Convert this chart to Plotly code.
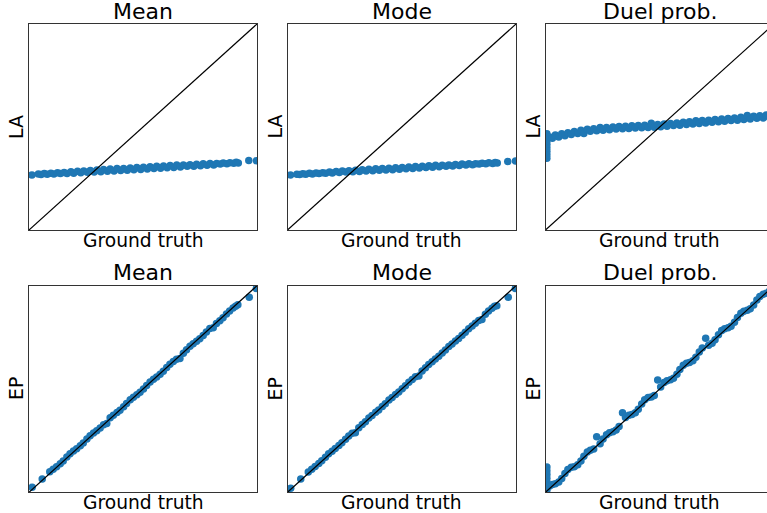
import plotly.graph_objects as go

# ---------------------------------------------------------------- data
# Ground-truth values (normalised to [0, 1]) and the estimates of each method.

# LA row, Mean / Mode columns share the same ground truth
truth_la = [0.013, 0.041, 0.053, 0.067, 0.080, 0.096, 0.109, 0.125, 0.138, 0.154,
            0.167, 0.184, 0.196, 0.213, 0.227, 0.240, 0.256, 0.269, 0.286, 0.298,
            0.315, 0.327, 0.344, 0.356, 0.373, 0.386, 0.402, 0.415, 0.431, 0.444,
            0.460, 0.473, 0.490, 0.502, 0.519, 0.531, 0.548, 0.560, 0.577, 0.590,
            0.606, 0.619, 0.635, 0.648, 0.664, 0.677, 0.694, 0.706, 0.723, 0.735,
            0.752, 0.764, 0.781, 0.794, 0.810, 0.823, 0.839, 0.852, 0.868, 0.881,
            0.898, 0.909, 0.918, 0.964, 0.998]

la_mean = [0.267, 0.272, 0.269, 0.274, 0.271, 0.276, 0.272, 0.278, 0.274, 0.279,
           0.274, 0.283, 0.276, 0.285, 0.278, 0.287, 0.280, 0.289, 0.282, 0.291,
           0.283, 0.294, 0.285, 0.296, 0.287, 0.298, 0.289, 0.299, 0.290, 0.301,
           0.292, 0.303, 0.294, 0.305, 0.296, 0.307, 0.298, 0.309, 0.300, 0.311,
           0.302, 0.313, 0.304, 0.315, 0.306, 0.315, 0.309, 0.317, 0.310, 0.319,
           0.312, 0.321, 0.314, 0.323, 0.316, 0.323, 0.320, 0.325, 0.322, 0.327,
           0.324, 0.329, 0.325, 0.337, 0.336]

la_mode = [0.267, 0.271, 0.269, 0.273, 0.271, 0.275, 0.272, 0.277, 0.274, 0.278,
           0.275, 0.282, 0.277, 0.284, 0.279, 0.286, 0.281, 0.288, 0.283, 0.290,
           0.284, 0.293, 0.286, 0.295, 0.288, 0.297, 0.290, 0.298, 0.291, 0.300,
           0.293, 0.302, 0.295, 0.304, 0.297, 0.306, 0.299, 0.308, 0.301, 0.310,
           0.303, 0.312, 0.305, 0.314, 0.307, 0.314, 0.309, 0.316, 0.311, 0.318,
           0.313, 0.320, 0.315, 0.322, 0.317, 0.322, 0.320, 0.324, 0.321, 0.326,
           0.323, 0.328, 0.325, 0.333, 0.335]

# EP row, Mean / Mode columns share the same ground truth
truth_ep = [0.014, 0.058, 0.091, 0.106, 0.121, 0.137, 0.150, 0.166, 0.180, 0.195,
            0.209, 0.225, 0.238, 0.254, 0.268, 0.283, 0.297, 0.312, 0.327, 0.341,
            0.356, 0.370, 0.386, 0.399, 0.415, 0.428, 0.444, 0.458, 0.473, 0.487,
            0.502, 0.516, 0.531, 0.546, 0.560, 0.575, 0.589, 0.604, 0.618, 0.633,
            0.647, 0.662, 0.677, 0.691, 0.706, 0.720, 0.735, 0.749, 0.764, 0.778,
            0.793, 0.808, 0.822, 0.837, 0.851, 0.866, 0.880, 0.895, 0.906, 0.916,
            0.966, 0.997]

ep_mean = [0.024, 0.064, 0.099, 0.112, 0.124, 0.138, 0.152, 0.171, 0.187, 0.200,
           0.211, 0.225, 0.239, 0.258, 0.274, 0.287, 0.298, 0.311, 0.327, 0.333,
           0.361, 0.373, 0.386, 0.397, 0.414, 0.430, 0.448, 0.460, 0.472, 0.484,
           0.500, 0.517, 0.534, 0.547, 0.558, 0.571, 0.586, 0.604, 0.620, 0.633,
           0.644, 0.648, 0.673, 0.690, 0.707, 0.719, 0.731, 0.743, 0.759, 0.776,
           0.793, 0.796, 0.817, 0.830, 0.845, 0.863, 0.878, 0.892, 0.900, 0.908,
           0.944, 0.987]

ep_mode = [0.019, 0.064, 0.098, 0.111, 0.125, 0.139, 0.153, 0.170, 0.186, 0.199,
           0.212, 0.226, 0.240, 0.257, 0.273, 0.286, 0.288, 0.312, 0.328, 0.342,
           0.360, 0.372, 0.387, 0.398, 0.415, 0.429, 0.447, 0.459, 0.473, 0.485,
           0.501, 0.516, 0.533, 0.546, 0.559, 0.563, 0.587, 0.603, 0.619, 0.632,
           0.645, 0.659, 0.674, 0.689, 0.706, 0.718, 0.732, 0.744, 0.760, 0.775,
           0.792, 0.805, 0.818, 0.831, 0.836, 0.862, 0.877, 0.891, 0.901, 0.903,
           0.944, 0.987]

# Duel prob. column (both rows share the same ground truth)
truth_duel = [0.006, 0.006, 0.006, 0.006, 0.006, 0.006, 0.006, 0.006,
              0.018, 0.030, 0.043, 0.058, 0.071, 0.085, 0.098, 0.113, 0.126, 0.141,
              0.155, 0.168, 0.183, 0.196, 0.211, 0.224, 0.239, 0.252, 0.267, 0.280,
              0.295, 0.309, 0.322, 0.337, 0.350, 0.365, 0.378, 0.393, 0.406, 0.421,
              0.434, 0.449, 0.463, 0.476, 0.491, 0.504, 0.519, 0.532, 0.547, 0.560,
              0.575, 0.588, 0.603, 0.617, 0.630, 0.645, 0.658, 0.673, 0.686, 0.701,
              0.714, 0.729, 0.742, 0.757, 0.771, 0.784, 0.799, 0.812, 0.827, 0.840,
              0.855, 0.868, 0.883, 0.896, 0.911, 0.925, 0.938, 0.953, 0.966, 0.980]

la_duel = [0.348, 0.365, 0.382, 0.399, 0.416, 0.433, 0.450, 0.467,
           0.451, 0.445, 0.461, 0.452, 0.467, 0.458, 0.472, 0.463, 0.478, 0.469,
           0.484, 0.469, 0.489, 0.479, 0.492, 0.482, 0.497, 0.484, 0.498, 0.487,
           0.500, 0.490, 0.503, 0.492, 0.504, 0.493, 0.506, 0.495, 0.507, 0.496,
           0.509, 0.498, 0.518, 0.499, 0.512, 0.501, 0.515, 0.504, 0.517, 0.507,
           0.520, 0.509, 0.523, 0.512, 0.525, 0.515, 0.530, 0.517, 0.531, 0.520,
           0.533, 0.523, 0.536, 0.525, 0.539, 0.528, 0.541, 0.531, 0.544, 0.533,
           0.547, 0.536, 0.556, 0.539, 0.552, 0.542, 0.555, 0.544, 0.558, 0.547]

ep_duel = [0.122, 0.104, 0.086, 0.068, 0.050, 0.034, 0.020, 0.010,
           0.030, 0.038, 0.041, 0.050, 0.067, 0.091, 0.110, 0.121, 0.124, 0.133,
           0.151, 0.174, 0.195, 0.204, 0.209, 0.269, 0.235, 0.258, 0.279, 0.288,
           0.293, 0.301, 0.318, 0.385, 0.362, 0.373, 0.376, 0.385, 0.402, 0.427,
           0.448, 0.459, 0.461, 0.468, 0.543, 0.510, 0.531, 0.540, 0.545, 0.552,
           0.571, 0.594, 0.615, 0.625, 0.628, 0.637, 0.654, 0.679, 0.698, 0.746,
           0.712, 0.721, 0.738, 0.763, 0.783, 0.792, 0.797, 0.804, 0.823, 0.846,
           0.867, 0.876, 0.881, 0.888, 0.907, 0.931, 0.948, 0.959, 0.964, 0.974]

methods = ["Mean", "Mode", "Duel prob."]
rows = ["LA", "EP"]
panels = [
    [(truth_la, la_mean), (truth_la, la_mode), (truth_duel, la_duel)],
    [(truth_ep, ep_mean), (truth_ep, ep_mode), (truth_duel, ep_duel)],
]
identity = [0, 1]

# ---------------------------------------------------------------- layout
W, H = 767, 513
col_px = [(29.0, 257.0), (287.5, 516.0), (545.5, 774.0)]
row_px = [(24.0, 230.0), (285.7, 492.3)]

FONT = "DejaVu Sans, Liberation Sans, sans-serif"
BLUE = "#1f77b4"

fig = go.Figure()
layout = dict(
    width=W, height=H,
    margin=dict(l=0, r=0, t=0, b=0),
    paper_bgcolor="white", plot_bgcolor="white",
    showlegend=False,
    font=dict(family=FONT, color="black"),
)
annotations = []

idx = 0
for r, row_name in enumerate(rows):
    top, bot = row_px[r]
    for c, method in enumerate(methods):
        idx += 1
        left, right = col_px[c]
        suffix = "" if idx == 1 else str(idx)
        right_vis = min(right, W)
        x_hi = (right_vis - left) / (right - left)
        layout["xaxis" + suffix] = dict(
            domain=[left / W, right_vis / W],
            range=[0, x_hi],
            anchor="y" + suffix,
            showticklabels=False, ticks="", showgrid=False, zeroline=False,
            showline=True, linecolor="#333", linewidth=1, mirror=True,
        )
        layout["yaxis" + suffix] = dict(
            domain=[(H - bot) / H, (H - top) / H],
            range=[0, 1],
            anchor="x" + suffix,
            showticklabels=False, ticks="", showgrid=False, zeroline=False,
            showline=True, linecolor="#333", linewidth=1,
            mirror=(right <= W),
        )

        xs, ys = panels[r][c]
        fig.add_trace(go.Scatter(
            x=xs, y=ys, mode="markers",
            marker=dict(color=BLUE, size=7.5, line=dict(width=0)),
            xaxis="x" + suffix, yaxis="y" + suffix,
        ))
        fig.add_trace(go.Scatter(
            x=identity, y=identity, mode="lines",
            line=dict(color="black", width=1.2),
            xaxis="x" + suffix, yaxis="y" + suffix,
        ))

        cx = (left + right) / 2
        # subplot title
        annotations.append(dict(
            text=method, xref="paper", yref="paper",
            x=cx / W, y=(H - (top - 13)) / H,
            xanchor="center", yanchor="middle", showarrow=False,
            font=dict(size=22, family=FONT, color="black"),
        ))
        # x label
        annotations.append(dict(
            text="Ground truth", xref="paper", yref="paper",
            x=cx / W, y=(H - (bot + 10.5)) / H,
            xanchor="center", yanchor="middle", showarrow=False,
            font=dict(size=18.7, family=FONT, color="black"),
        ))
        # y label
        annotations.append(dict(
            text=row_name, xref="paper", yref="paper",
            x=(left - 13) / W, y=(H - (top + bot) / 2) / H,
            xanchor="center", yanchor="middle", showarrow=False,
            textangle=-90,
            font=dict(size=19, family=FONT, color="black"),
        ))

layout["annotations"] = annotations
fig.update_layout(**layout)
fig.write_html("out.html")
